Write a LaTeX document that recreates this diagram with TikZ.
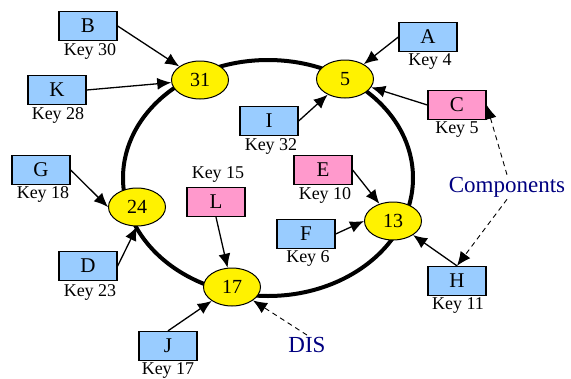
\documentclass[tikz,border=0pt]{standalone}
\usepackage{fontspec}
\setmainfont{Liberation Serif}
\usetikzlibrary{arrows.meta,shapes.geometric}
\definecolor{keyblue}{HTML}{99CCFF}
\definecolor{keypink}{HTML}{FF99CC}
\definecolor{notenavy}{HTML}{000080}
\begin{document}
\begin{tikzpicture}[x=1pt,y=-1pt,
  peer/.style={ellipse,draw,fill=yellow,line width=1pt,minimum width=57pt,
    minimum height=38pt,inner sep=0pt,font=\fontsize{20}{20}\selectfont},
  item/.style={rectangle,draw,line width=1.3pt,minimum width=58pt,
    minimum height=29pt,inner sep=0pt,font=\fontsize{21}{21}\selectfont},
  blueitem/.style={item,fill=keyblue},
  pinkitem/.style={item,fill=keypink},
  keylabel/.style={font=\fontsize{18}{18}\selectfont,inner sep=0pt},
  link/.style={-{Latex[length=14pt,width=12pt]},line width=1.3pt},
  hint/.style={-{Latex[length=14pt,width=12pt]},line width=0.9pt,
    dash pattern=on 5pt off 4pt},
  note/.style={text=notenavy,font=\fontsize{23}{23}\selectfont,inner sep=2pt}
]
\useasboundingbox (0,0) rectangle (571,378);

% the ring
\coordinate (ringc) at (268,178);
\draw[line width=4pt] (ringc) ellipse [x radius=145, y radius=118];

% peers on the ring
\node[peer] (p31) at (200,80) {31};
\node[peer] (p5)  at (345,79) {5};
\node[peer] (p13) at (393,221) {13};
\node[peer] (p17) at (232,287) {17};
\node[peer] (p24) at (137,207) {24};

% stored items with their keys
\node[blueitem] (B) at (88,26) {B};
\node[keylabel] (kB) at (90,51) {Key 30};
\node[blueitem] (K) at (57,90) {K};
\node[keylabel] (kK) at (58,115) {Key 28};
\node[blueitem] (A) at (428,37) {A};
\node[keylabel] (kA) at (430,62) {Key 4};
\node[pinkitem] (C) at (457,105) {C};
\node[keylabel] (kC) at (457,130) {Key 5};
\node[blueitem] (G) at (41,170) {G};
\node[keylabel] (kG) at (43,194) {Key 18};
\node[blueitem] (D) at (88,266) {D};
\node[keylabel] (kD) at (90,292) {Key 23};
\node[pinkitem] (L) at (216,202) {L};
\node[keylabel] (kL) at (218,174) {Key 15};
\node[pinkitem] (E) at (323,170) {E};
\node[keylabel] (kE) at (325,195) {Key 10};
\node[blueitem] (F) at (306,234) {F};
\node[keylabel] (kF) at (308,258) {Key 6};
\node[blueitem] (H) at (457,281) {H};
\node[keylabel] (kH) at (458,305) {Key 11};
\node[blueitem] (I) at (269,121) {I};
\node[keylabel] (kI) at (271,146) {Key 32};
\node[blueitem] (J) at (168,346) {J};
\node[keylabel] (kJ) at (168,370) {Key 17};

% notes
\node[note] (dis) at (307,345) {DIS};
\node[note] (comp) at (507,187) {Components};

% items point to the peer responsible for them
\draw[link] (B.east) -- (p31);
\draw[link] (K.east) -- (p31);
\draw[link] (A.west) -- (p5);
\draw[link] (C.west) -- (p5);
\draw[link] (I.east) -- (p5);
\draw[link] (G.east) -- (p24.west);
\draw[link] (D.east) -- (p24.south);
\draw[link] (E.east) -- (p13);
\draw[link] (F.east) -- (p13.west);
\draw[link] (H.north) -- (p13);
\draw[link] (L.south) -- (p17);
\draw[link] (J.north) -- (p17);

% dashed pointers from the notes
\draw[hint] (dis.north) -- (p17);
\draw[hint] (comp.north) -- (C.east);
\draw[hint] (comp.south) -- (H.north);
\end{tikzpicture}
\end{document}
